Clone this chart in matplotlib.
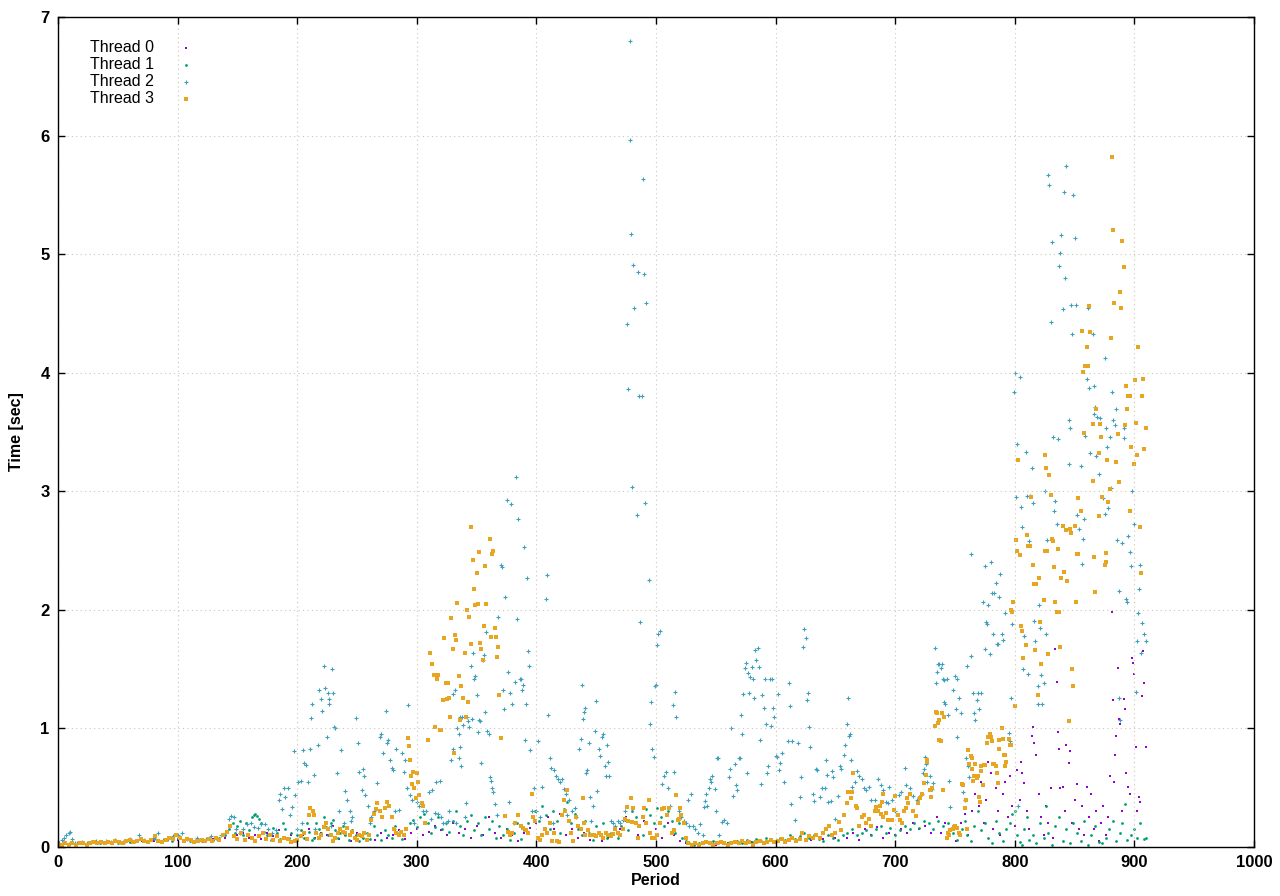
import matplotlib
matplotlib.use("Agg")
import matplotlib.pyplot as plt
import numpy as np

plt.rcParams['font.family'] = ['Liberation Sans', 'DejaVu Sans']

# (period, time in sec), one list per thread
thread0 = [
    (0, 0.02), (10, 0.02), (20, 0.03), (30, 0.03), (40, 0.03), (50, 0.04), (60, 0.04), (70, 0.05),
    (80, 0.05), (90, 0.05), (100, 0.06), (110, 0.05), (120, 0.06), (130, 0.07), (140, 0.08), (150, 0.1),
    (155, 0.12), (160, 0.08), (165, 0.1), (170, 0.07), (175, 0.12), (180, 0.09), (185, 0.14), (190, 0.08),
    (195, 0.1), (200, 0.06), (205, 0.1), (210, 0.15), (215, 0.08), (220, 0.12), (225, 0.1), (230, 0.18),
    (235, 0.07), (240, 0.1), (245, 0.05), (250, 0.12), (255, 0.08), (260, 0.1), (265, 0.06), (270, 0.12),
    (275, 0.08), (280, 0.1), (285, 0.14), (290, 0.07), (295, 0.12), (300, 0.15), (305, 0.1), (310, 0.13),
    (315, 0.18), (320, 0.14), (325, 0.1), (330, 0.2), (335, 0.12), (340, 0.15), (345, 0.08), (350, 0.18),
    (355, 0.1), (360, 0.25), (365, 0.12), (370, 0.08), (375, 0.15), (380, 0.1), (385, 0.05), (390, 0.12),
    (395, 0.16), (400, 0.2), (405, 0.1), (410, 0.25), (415, 0.15), (420, 0.28), (425, 0.1), (430, 0.15),
    (435, 0.08), (440, 0.12), (445, 0.06), (450, 0.1), (455, 0.05), (460, 0.08), (465, 0.12), (470, 0.15),
    (475, 0.25), (480, 0.2), (485, 0.1), (490, 0.22), (495, 0.12), (500, 0.15), (505, 0.08), (510, 0.2),
    (515, 0.1), (520, 0.05), (525, 0.03), (530, 0.02), (540, 0.03), (550, 0.02), (560, 0.03), (570, 0.03),
    (580, 0.04), (590, 0.04), (600, 0.05), (610, 0.05), (620, 0.06), (630, 0.06), (640, 0.07), (650, 0.08),
    (660, 0.08), (665, 0.12), (670, 0.06), (675, 0.15), (680, 0.1), (685, 0.17), (690, 0.08), (695, 0.12),
    (700, 0.1), (705, 0.15), (710, 0.12), (715, 0.2), (720, 0.15), (725, 0.18), (730, 0.12), (735, 0.25),
    (738, 0.12), (742, 0.2), (745, 0.1), (748, 0.15), (751, 0.05), (755, 0.2), (758, 0.28), (761, 0.1),
    (764, 0.3), (767, 0.45), (770, 0.35), (772, 0.55), (774, 0.2), (776, 0.4), (778, 0.72), (780, 0.62),
    (782, 0.15), (784, 0.5), (786, 0.3), (788, 0.1), (790, 0.45), (792, 0.55), (794, 0.25), (796, 0.6),
    (798, 0.35), (800, 0.18), (802, 0.65), (804, 0.4), (805, 0.72), (806, 0.62), (808, 0.54), (810, 0.3),
    (812, 0.15), (814, 0.94), (815, 1.01), (816, 0.88), (818, 0.78), (820, 0.45), (822, 0.25), (824, 0.1),
    (826, 0.35), (828, 0.2), (830, 0.5), (832, 0.08), (834, 1.67), (835, 1.39), (836, 0.97), (837, 0.83),
    (838, 0.5), (840, 0.51), (842, 0.3), (843, 0.86), (845, 0.71), (846, 0.81), (848, 0.2), (850, 0.4),
    (852, 0.53), (854, 0.15), (856, 0.35), (858, 0.1), (860, 0.51), (862, 0.25), (864, 0.45), (866, 0.15),
    (868, 0.3), (870, 0.05), (872, 0.2), (874, 0.35), (876, 0.1), (878, 0.25), (880, 0.6), (881, 1.98),
    (882, 1.24), (883, 0.55), (884, 0.78), (885, 0.94), (886, 1.51), (887, 1.08), (888, 1.04), (890, 0.3),
    (891, 1.25), (892, 1.16), (893, 0.62), (895, 0.51), (896, 0.45), (898, 1.59), (899, 1.55), (900, 1.46),
    (901, 0.84), (902, 0.3), (904, 0.42), (905, 0.38), (906, 1.27), (907, 1.65), (908, 1.38), (910, 0.84),
]

thread1 = [
    (0, 0.02), (5, 0.03), (10, 0.03), (15, 0.02), (20, 0.03), (25, 0.03), (30, 0.04), (35, 0.03),
    (40, 0.04), (45, 0.04), (50, 0.03), (55, 0.05), (60, 0.04), (65, 0.05), (70, 0.06), (75, 0.05),
    (80, 0.07), (85, 0.05), (90, 0.06), (95, 0.05), (100, 0.08), (105, 0.06), (110, 0.05), (115, 0.06),
    (120, 0.05), (125, 0.07), (130, 0.06), (135, 0.08), (140, 0.1), (143, 0.15), (146, 0.2), (148, 0.12),
    (150, 0.18), (152, 0.22), (155, 0.1), (157, 0.2), (160, 0.14), (162, 0.25), (164, 0.27), (165, 0.28),
    (166, 0.26), (168, 0.24), (170, 0.2), (172, 0.13), (175, 0.1), (178, 0.06), (180, 0.16), (183, 0.12),
    (186, 0.07), (188, 0.2), (190, 0.15), (193, 0.08), (195, 0.12), (198, 0.05), (200, 0.1), (203, 0.14),
    (206, 0.08), (208, 0.2), (210, 0.13), (212, 0.06), (214, 0.08), (216, 0.2), (218, 0.15), (220, 0.12),
    (222, 0.25), (224, 0.17), (226, 0.1), (228, 0.2), (230, 0.23), (232, 0.14), (234, 0.08), (236, 0.12),
    (238, 0.18), (240, 0.1), (243, 0.06), (246, 0.14), (249, 0.1), (252, 0.05), (255, 0.08), (258, 0.12),
    (261, 0.07), (264, 0.18), (267, 0.1), (270, 0.06), (273, 0.14), (276, 0.1), (279, 0.08), (282, 0.18),
    (285, 0.12), (288, 0.07), (291, 0.15), (294, 0.2), (297, 0.23), (300, 0.17), (303, 0.25), (306, 0.28),
    (309, 0.2), (312, 0.12), (315, 0.17), (318, 0.25), (321, 0.15), (324, 0.2), (327, 0.13), (330, 0.22),
    (333, 0.3), (336, 0.18), (339, 0.1), (342, 0.22), (345, 0.27), (348, 0.14), (351, 0.2), (354, 0.1),
    (357, 0.25), (360, 0.15), (363, 0.22), (366, 0.08), (369, 0.18), (372, 0.1), (375, 0.15), (378, 0.06),
    (381, 0.12), (384, 0.2), (387, 0.07), (390, 0.14), (393, 0.2), (396, 0.25), (399, 0.3), (402, 0.22),
    (405, 0.35), (408, 0.27), (411, 0.15), (414, 0.3), (417, 0.22), (420, 0.12), (423, 0.32), (426, 0.38),
    (429, 0.2), (432, 0.28), (435, 0.15), (438, 0.1), (441, 0.22), (444, 0.12), (447, 0.06), (450, 0.18),
    (453, 0.1), (456, 0.2), (459, 0.08), (462, 0.12), (465, 0.15), (468, 0.08), (471, 0.18), (474, 0.23),
    (477, 0.14), (480, 0.3), (483, 0.25), (486, 0.18), (489, 0.1), (492, 0.32), (495, 0.27), (498, 0.2),
    (501, 0.33), (504, 0.25), (507, 0.18), (510, 0.3), (513, 0.22), (516, 0.12), (519, 0.2), (522, 0.08),
    (525, 0.05), (528, 0.03), (532, 0.02), (536, 0.03), (540, 0.04), (544, 0.03), (548, 0.05), (552, 0.03),
    (556, 0.04), (560, 0.03), (564, 0.04), (568, 0.05), (572, 0.03), (576, 0.06), (580, 0.04), (584, 0.07),
    (588, 0.05), (592, 0.08), (596, 0.06), (600, 0.05), (604, 0.08), (608, 0.06), (612, 0.1), (616, 0.07),
    (620, 0.09), (624, 0.12), (628, 0.08), (632, 0.1), (636, 0.07), (640, 0.05), (644, 0.1), (648, 0.08),
    (652, 0.06), (656, 0.1), (660, 0.12), (664, 0.15), (668, 0.1), (672, 0.12), (676, 0.14), (680, 0.1),
    (684, 0.15), (688, 0.18), (692, 0.12), (696, 0.16), (700, 0.1), (704, 0.14), (708, 0.18), (712, 0.15),
    (716, 0.2), (720, 0.16), (724, 0.22), (728, 0.2), (732, 0.15), (736, 0.22), (740, 0.18), (744, 0.2),
    (748, 0.12), (752, 0.06), (756, 0.15), (758, 0.22), (760, 0.1), (763, 0.05), (766, 0.18), (769, 0.3),
    (772, 0.14), (775, 0.2), (778, 0.08), (781, 0.03), (784, 0.22), (787, 0.12), (790, 0.05), (793, 0.15),
    (796, 0.2), (798, 0.28), (800, 0.3), (802, 0.1), (804, 0.04), (806, 0.02), (808, 0.15), (810, 0.25),
    (812, 0.06), (815, 0.1), (818, 0.03), (821, 0.2), (824, 0.08), (826, 0.35), (828, 0.12), (831, 0.02),
    (834, 0.18), (837, 0.25), (840, 0.05), (843, 0.15), (846, 0.03), (849, 0.2), (852, 0.12), (855, 0.05),
    (858, 0.22), (861, 0.02), (864, 0.1), (867, 0.18), (870, 0.04), (873, 0.03), (876, 0.08), (879, 0.15),
    (882, 0.22), (885, 0.05), (888, 0.12), (890, 0.2), (892, 0.36), (894, 0.06), (897, 0.1), (900, 0.15),
    (902, 0.08), (905, 0.2), (908, 0.07), (910, 0.08),
]

thread2 = [
    (1, 0.03), (3, 0.06), (5, 0.08), (7, 0.1), (9, 0.12), (10, 0.13), (12, 0.07), (14, 0.03),
    (16, 0.03), (20, 0.04), (24, 0.03), (28, 0.04), (32, 0.05), (36, 0.04), (40, 0.05), (44, 0.04),
    (48, 0.06), (52, 0.04), (56, 0.05), (60, 0.07), (64, 0.05), (68, 0.1), (72, 0.06), (76, 0.05),
    (80, 0.08), (84, 0.12), (88, 0.06), (92, 0.07), (96, 0.09), (100, 0.1), (104, 0.12), (108, 0.07),
    (112, 0.05), (116, 0.08), (120, 0.06), (124, 0.07), (128, 0.09), (132, 0.08), (136, 0.1), (140, 0.12),
    (143, 0.24), (145, 0.26), (147, 0.25), (149, 0.15), (152, 0.12), (155, 0.15), (158, 0.19), (161, 0.2),
    (164, 0.17), (167, 0.16), (170, 0.19), (173, 0.19), (176, 0.15), (179, 0.12), (182, 0.14), (185, 0.4),
    (186, 0.45), (187, 0.32), (189, 0.5), (190, 0.42), (192, 0.5), (194, 0.27), (196, 0.34), (197, 0.81),
    (198, 0.44), (200, 0.15), (201, 0.55), (203, 0.56), (204, 0.2), (205, 0.82), (206, 0.71), (207, 0.69),
    (209, 0.55), (211, 0.83), (211.5, 1.09), (212, 1.21), (214, 0.61), (215, 0.15), (217, 0.86), (218, 1.32),
    (220, 1.25), (221, 1.15), (222, 1.53), (223, 1.34), (225, 0.93), (226, 1.3), (226.5, 1.25), (227, 1.21),
    (228, 0.18), (229, 1.5), (230, 1.3), (231, 1.01), (232, 1.0), (233, 0.62), (235, 0.3), (237, 0.82),
    (239, 0.2), (240, 0.47), (242, 0.4), (244, 0.3), (245, 0.22), (246, 0.25), (249, 1.09), (251, 0.88),
    (252, 0.63), (254, 0.48), (255, 0.66), (256, 0.6), (257, 0.44), (259, 0.35), (261, 0.2), (262, 0.25),
    (264, 0.3), (267, 0.54), (269, 0.93), (270, 0.95), (272, 0.79), (274, 1.15), (275, 0.88), (276, 0.9),
    (278, 0.73), (279, 0.67), (280, 0.65), (281, 0.15), (282, 0.3), (283, 0.83), (285, 0.31), (288, 0.79),
    (289, 0.63), (290, 0.73), (292, 0.5), (293, 1.2), (294, 0.44), (296, 0.4), (298, 0.2), (300, 0.38),
    (302, 0.35), (305, 0.3), (308, 0.3), (310, 0.46), (312, 0.24), (313, 0.48), (315, 0.29), (316, 0.55),
    (318, 0.28), (319, 0.56), (320, 0.25), (322, 0.2), (324, 0.2), (326, 0.22), (327, 0.3), (329, 0.73),
    (330, 1.29), (330.5, 0.83), (332, 1.32), (333, 0.2), (334, 1.0), (335, 0.75), (335.5, 0.95), (336, 0.84),
    (336.5, 1.1), (337, 0.68), (338, 1.1), (339, 1.03), (340, 0.25), (341, 0.37), (342, 1.1), (343, 1.06),
    (344, 1.01), (345, 1.53), (346, 1.08), (347, 1.64), (348, 1.42), (349, 1.44), (350, 1.28), (351, 0.97),
    (352, 1.07), (353, 1.06), (354, 0.71), (355, 1.58), (356, 1.62), (357, 1.14), (358, 1.81), (359, 0.98),
    (360, 0.95), (361, 0.59), (362, 0.56), (363, 0.5), (364, 0.46), (365, 0.36), (367, 0.27), (368, 1.94),
    (370, 2.38), (371, 2.36), (372, 1.32), (373, 1.16), (374, 2.11), (375, 2.93), (376, 1.48), (377, 0.38),
    (378, 1.3), (379, 2.89), (380, 1.21), (381, 0.2), (382, 1.39), (383, 3.12), (384, 1.92), (385, 2.77),
    (386, 1.42), (387, 1.42), (388, 1.32), (389, 1.37), (390, 2.53), (390.5, 0.9), (391, 1.21), (392, 2.27),
    (393, 1.65), (394, 1.53), (395, 0.82), (396, 0.3), (398, 0.5), (400, 0.3), (401, 0.89), (403, 0.25),
    (405, 0.51), (408, 2.09), (409, 2.29), (410, 1.11), (411, 0.75), (412, 0.67), (414, 0.2), (415, 0.65),
    (416, 0.6), (418, 0.57), (420, 0.55), (421, 0.57), (423, 0.49), (425, 0.45), (426, 0.27), (427, 0.4),
    (430, 0.3), (432, 0.33), (433, 0.25), (436, 0.83), (437, 0.91), (438, 1.37), (439, 1.08), (440, 1.14),
    (441, 1.17), (441.5, 0.62), (442, 0.65), (444, 0.88), (445, 0.42), (446, 0.22), (447, 0.35), (449, 0.98),
    (450, 1.23), (451, 0.47), (452, 0.83), (453, 0.77), (455, 0.93), (456, 0.95), (457, 0.68), (458, 0.6),
    (459, 0.86), (460, 0.72), (461, 0.6), (462, 0.22), (464, 0.2), (466, 0.18), (468, 0.22), (470, 0.2),
    (472, 0.23), (474, 0.3), (476, 4.41), (477, 3.86), (478, 6.8), (478.5, 5.96), (479, 5.17), (480, 3.04),
    (481, 4.91), (482, 4.55), (484, 2.8), (485, 4.85), (486, 3.8), (487, 1.9), (488, 3.8), (489, 5.63),
    (490, 4.83), (491, 2.9), (492, 4.59), (494, 2.25), (495, 1.04), (496, 1.22), (497, 0.83), (498, 0.76),
    (499, 1.36), (500, 1.37), (501, 1.7), (502, 1.8), (503, 1.82), (505, 0.53), (507, 0.6), (508, 0.63),
    (510, 0.5), (512, 0.35), (514, 1.2), (515, 0.63), (516, 1.31), (517, 1.1), (519, 0.3), (521, 0.25),
    (523, 0.22), (525, 0.2), (527, 0.4), (528, 0.18), (529, 0.45), (531, 0.18), (533, 0.15), (535, 0.12),
    (537, 0.19), (539, 0.1), (540, 0.34), (541, 0.39), (542, 0.45), (543, 0.35), (544, 0.5), (545, 0.57),
    (546, 0.55), (547, 0.6), (549, 0.49), (550, 0.3), (551, 0.75), (552, 0.75), (553, 0.1), (555, 0.21),
    (557, 0.23), (559, 0.2), (561, 0.59), (562, 0.66), (563, 1.0), (564, 0.43), (566, 0.7), (567, 0.52),
    (568, 0.48), (569, 0.75), (570, 0.75), (571, 1.11), (572, 0.95), (573, 1.29), (574, 1.51), (575, 1.55),
    (576, 0.62), (577, 1.47), (578, 1.3), (579, 1.43), (580, 1.52), (581, 1.42), (582, 1.26), (583, 1.66),
    (584, 1.58), (585, 1.68), (586, 1.52), (587, 0.9), (588, 0.53), (589, 1.28), (590, 1.17), (591, 1.42),
    (592, 1.04), (593, 0.62), (594, 0.68), (595, 1.42), (596, 1.02), (597, 1.42), (598, 1.17), (599, 1.1),
    (600, 0.77), (601, 0.76), (602, 1.29), (603, 0.65), (604, 0.71), (605, 0.79), (607, 0.55), (610, 0.89),
    (611, 1.38), (612, 1.19), (613, 0.36), (614, 0.89), (616, 0.23), (619, 0.88), (620, 0.42), (621, 0.59),
    (623, 1.69), (624, 1.84), (625, 1.76), (626, 1.24), (627, 1.3), (628, 1.01), (629, 0.84), (631, 0.45),
    (632, 0.39), (634, 0.66), (635, 0.65), (637, 0.42), (639, 0.5), (641, 0.5), (642, 0.73), (643, 0.61),
    (644, 0.38), (646, 0.39), (647, 0.64), (648, 0.59), (650, 0.24), (652, 0.43), (654, 0.68), (655, 0.66),
    (657, 0.78), (658, 0.86), (660, 1.04), (660.5, 1.26), (661, 0.94), (662, 0.95), (663, 0.73), (664, 0.51),
    (666, 0.55), (668, 0.64), (670, 0.6), (672, 0.57), (674, 0.5), (676, 0.48), (678, 0.51), (680, 0.4),
    (683, 0.4), (686, 0.57), (688, 0.52), (690, 0.48), (692, 0.38), (694, 0.37), (695, 0.51), (697, 0.4),
    (700, 0.3), (703, 0.44), (705, 0.46), (708, 0.67), (709, 0.52), (712, 0.5), (715, 0.43), (718, 0.4),
    (720, 0.42), (722, 0.45), (723, 0.62), (724, 0.66), (725, 0.76), (726, 0.7), (727, 0.55), (729, 0.6),
    (731, 0.49), (732, 0.54), (733, 1.68), (734, 1.38), (735, 1.48), (736, 1.54), (737, 1.54), (738, 1.51),
    (739, 1.54), (740, 1.42), (740.5, 1.22), (741, 1.41), (742, 1.21), (743, 1.42), (744, 1.11), (745, 0.56),
    (746, 0.34), (748, 1.32), (750, 1.44), (751, 1.16), (751.5, 1.42), (752, 0.93), (753, 1.26), (755, 1.13),
    (757, 0.46), (758, 0.4), (759, 0.75), (760, 1.53), (761, 0.68), (762, 0.59), (763, 2.47), (763.5, 1.61),
    (765, 1.3), (766, 1.13), (767, 1.07), (768, 1.24), (769, 1.3), (770, 1.16), (772, 1.3), (773, 2.07),
    (775, 2.37), (775.5, 1.67), (776, 1.9), (777, 1.88), (778, 2.04), (779, 1.63), (780, 2.4), (781, 2.14),
    (782, 1.8), (783, 2.14), (784, 2.23), (785, 1.71), (786, 1.71), (787, 2.11), (788, 2.3), (789, 1.8),
    (790, 1.75), (792, 1.97), (795, 0.96), (796, 0.89), (797, 1.26), (798, 1.88), (799, 3.84), (800, 4.0),
    (801, 2.95), (802, 3.4), (803, 0.35), (804, 3.96), (805, 2.87), (806, 2.7), (807, 1.5), (808, 1.78),
    (809, 3.33), (810, 2.96), (811, 1.46), (812, 2.58), (813, 2.96), (814, 3.2), (815, 2.9), (816, 1.91),
    (817, 1.74), (819, 1.36), (819.5, 1.21), (820, 2.04), (821, 1.85), (822, 1.45), (823, 1.21), (824, 1.38),
    (825, 3.0), (826, 1.8), (827, 2.59), (828, 5.67), (829, 5.58), (830, 4.43), (831, 5.1), (832, 3.46),
    (833, 2.83), (834, 2.92), (835, 2.72), (836, 3.44), (837, 4.9), (838, 5.01), (839, 5.16), (840, 4.54),
    (841, 5.52), (842, 4.8), (843, 5.74), (845, 3.6), (845.5, 3.23), (846, 3.53), (847, 4.57), (848, 4.33),
    (849, 5.5), (850, 5.14), (851, 4.57), (852, 2.8), (854, 2.68), (855, 3.21), (856, 2.39), (857, 2.6),
    (858, 2.77), (859, 3.47), (860, 3.95), (861, 4.55), (862, 3.87), (863, 3.32), (865, 4.33), (866, 3.89),
    (866.5, 3.65), (867, 3.71), (868, 3.3), (869, 3.63), (870, 3.15), (871, 3.62), (874, 2.94), (875, 4.12),
    (875.5, 2.81), (876, 3.53), (877, 3.37), (878, 2.86), (880, 3.46), (880.5, 3.03), (881, 3.84), (882, 3.6),
    (884, 3.56), (885, 3.69), (885.5, 2.59), (887, 2.16), (887.5, 1.26), (888, 1.07), (890, 2.56), (891, 3.45),
    (891.5, 3.53), (893, 2.09), (894, 2.07), (895, 2.62), (896, 2.49), (897, 2.37), (898, 3.0), (900, 2.72),
    (901, 1.31), (902, 1.74), (903, 1.97), (904, 2.18), (905, 2.38), (905.5, 1.64), (906, 1.89), (908, 1.8),
    (910, 1.74),
]

thread3 = [
    (0, 0.02), (3, 0.02), (6, 0.03), (9, 0.02), (12, 0.03), (15, 0.02), (18, 0.03), (21, 0.03),
    (24, 0.02), (27, 0.03), (30, 0.04), (33, 0.03), (36, 0.04), (39, 0.03), (42, 0.04), (45, 0.03),
    (48, 0.05), (51, 0.04), (54, 0.03), (57, 0.05), (60, 0.06), (63, 0.04), (66, 0.05), (69, 0.07),
    (72, 0.05), (75, 0.04), (78, 0.06), (81, 0.09), (84, 0.05), (87, 0.04), (90, 0.06), (93, 0.08),
    (96, 0.07), (99, 0.1), (102, 0.08), (105, 0.05), (108, 0.07), (111, 0.06), (114, 0.04), (117, 0.05),
    (120, 0.06), (123, 0.05), (126, 0.07), (129, 0.05), (132, 0.08), (135, 0.06), (138, 0.1), (141, 0.13),
    (144, 0.18), (147, 0.09), (150, 0.07), (153, 0.12), (156, 0.06), (159, 0.1), (162, 0.08), (165, 0.05),
    (168, 0.09), (171, 0.12), (174, 0.07), (177, 0.1), (180, 0.06), (183, 0.09), (186, 0.05), (189, 0.08),
    (192, 0.07), (195, 0.04), (198, 0.05), (200, 0.06), (203, 0.09), (206, 0.12), (208, 0.07), (210, 0.27),
    (211, 0.33), (213, 0.3), (214, 0.27), (216, 0.12), (218, 0.08), (220, 0.1), (222, 0.17), (224, 0.2),
    (226, 0.15), (228, 0.1), (230, 0.05), (232, 0.08), (234, 0.12), (236, 0.15), (238, 0.13), (240, 0.12),
    (242, 0.16), (244, 0.1), (246, 0.13), (248, 0.08), (250, 0.06), (252, 0.1), (254, 0.09), (256, 0.12),
    (258, 0.06), (260, 0.1), (262, 0.23), (264, 0.28), (266, 0.32), (267, 0.37), (269, 0.3), (271, 0.25),
    (273, 0.33), (275, 0.38), (277, 0.35), (279, 0.25), (281, 0.15), (283, 0.12), (285, 0.1), (287, 0.13),
    (289, 0.1), (291, 0.15), (293, 0.92), (293.5, 0.85), (294, 0.73), (295, 0.6), (296, 0.53), (297, 0.63),
    (298, 0.5), (299, 0.41), (300, 0.62), (301, 0.55), (302, 0.44), (304, 0.37), (305, 0.35), (307, 0.2),
    (309, 0.9), (311, 1.64), (313, 1.54), (314, 1.45), (315, 1.01), (317, 1.42), (318, 1.45), (319, 0.99),
    (320, 0.99), (322, 1.24), (323, 1.76), (324, 1.38), (325, 1.25), (326, 1.38), (327, 1.26), (328, 1.1),
    (329, 1.93), (330, 1.67), (331, 0.79), (332, 1.79), (333, 1.75), (334, 2.06), (335, 1.44), (336, 1.07),
    (337, 1.36), (339, 1.26), (340, 1.64), (341, 1.1), (342, 2.0), (343, 1.22), (344, 1.94), (345, 2.7),
    (345.5, 1.71), (347, 2.42), (348, 2.18), (349, 2.04), (350, 2.31), (351, 2.05), (352, 2.49), (353, 1.72),
    (354, 1.67), (355, 1.58), (356, 1.86), (357, 2.37), (358, 2.05), (361, 2.6), (362, 1.77), (363, 2.47),
    (364, 2.5), (365, 1.85), (366, 1.77), (367, 1.6), (368, 1.69), (369, 1.28), (370, 0.92), (374, 0.26),
    (376, 0.13), (378, 0.1), (380, 0.12), (382, 0.2), (385, 0.27), (387, 0.18), (389, 0.16), (391, 0.14),
    (393, 0.12), (396, 0.45), (397, 0.25), (399, 0.22), (401, 0.08), (403, 0.06), (405, 0.1), (407, 0.15),
    (409, 0.12), (411, 0.2), (413, 0.05), (415, 0.12), (417, 0.05), (419, 0.04), (421, 0.27), (423, 0.4),
    (424, 0.3), (426, 0.48), (427, 0.22), (429, 0.12), (431, 0.05), (433, 0.25), (435, 0.18), (437, 0.15),
    (439, 0.41), (440, 0.2), (441, 0.1), (443, 0.14), (445, 0.1), (448, 0.1), (450, 0.09), (452, 0.12),
    (454, 0.1), (456, 0.08), (458, 0.12), (460, 0.1), (462, 0.09), (464, 0.11), (466, 0.15), (468, 0.12),
    (470, 0.1), (472, 0.15), (474, 0.24), (476, 0.34), (477, 0.22), (479, 0.41), (480, 0.21), (481, 0.33),
    (483, 0.2), (485, 0.08), (486, 0.18), (489, 0.25), (490, 0.33), (492, 0.2), (494, 0.4), (495, 0.12),
    (497, 0.08), (499, 0.08), (501, 0.1), (503, 0.2), (505, 0.32), (507, 0.33), (509, 0.27), (511, 0.33),
    (513, 0.12), (515, 0.14), (517, 0.44), (518, 0.23), (519, 0.24), (520, 0.33), (521, 0.27), (523, 0.2),
    (525, 0.08), (527, 0.03), (530, 0.02), (533, 0.03), (536, 0.02), (539, 0.03), (542, 0.04), (545, 0.03),
    (548, 0.02), (551, 0.03), (554, 0.04), (557, 0.03), (560, 0.02), (563, 0.03), (566, 0.04), (569, 0.03),
    (572, 0.05), (575, 0.03), (578, 0.04), (581, 0.02), (584, 0.04), (587, 0.05), (590, 0.03), (593, 0.04),
    (596, 0.06), (599, 0.04), (602, 0.05), (605, 0.07), (608, 0.04), (611, 0.06), (614, 0.08), (617, 0.05),
    (620, 0.07), (622, 0.12), (625, 0.06), (628, 0.09), (631, 0.08), (634, 0.1), (637, 0.08), (640, 0.12),
    (642, 0.15), (645, 0.18), (647, 0.1), (650, 0.12), (653, 0.21), (655, 0.14), (657, 0.27), (660, 0.37),
    (660.5, 0.46), (662, 0.46), (663, 0.41), (664, 0.46), (665, 0.62), (667, 0.35), (668, 0.33), (670, 0.18),
    (672, 0.25), (674, 0.27), (676, 0.2), (678, 0.24), (680, 0.18), (683, 0.3), (684, 0.34), (686, 0.3),
    (687, 0.35), (688, 0.28), (689, 0.38), (689.5, 0.25), (690, 0.45), (692, 0.29), (694, 0.23), (697, 0.23),
    (699, 0.31), (700, 0.43), (702, 0.27), (704, 0.23), (706, 0.2), (707, 0.3), (709, 0.33), (710, 0.41),
    (711, 0.37), (712, 0.45), (715, 0.3), (717, 0.26), (719, 0.37), (721, 0.41), (722, 0.45), (724, 0.54),
    (726, 0.61), (726.5, 0.73), (727, 0.72), (729, 0.48), (730, 0.42), (731, 0.5), (733, 1.02), (734, 1.14),
    (735, 1.13), (736, 1.05), (736.5, 1.07), (737, 0.9), (738, 0.89), (739, 1.13), (740, 0.48), (741, 1.1),
    (743, 0.08), (744, 0.12), (745, 0.1), (746, 0.14), (748, 0.15), (749, 0.17), (750, 0.18), (752, 0.16),
    (753, 0.12), (754, 0.1), (756, 0.53), (757, 0.52), (758, 0.33), (759, 0.4), (760, 0.15), (761, 0.82),
    (762, 0.7), (763, 0.77), (764, 0.75), (764.5, 0.66), (765, 0.56), (766, 0.6), (767, 0.7), (768, 0.58),
    (769, 0.6), (770, 0.42), (771, 0.38), (771.5, 0.68), (772, 0.64), (773, 0.52), (774, 0.69), (775, 0.69),
    (777, 0.88), (778, 0.93), (779, 0.95), (780, 0.93), (781, 0.89), (782, 0.7), (783, 0.7), (784, 0.68),
    (785, 0.62), (786, 0.54), (786.5, 0.9), (787, 0.83), (789, 1.0), (790, 0.91), (791, 0.78), (791.5, 0.78),
    (792, 0.68), (793, 0.72), (795, 0.91), (796, 0.86), (796.5, 0.86), (797, 2.0), (798, 1.98), (798.5, 2.07),
    (800, 1.19), (801, 2.59), (801.5, 2.5), (803, 3.26), (804, 2.46), (805, 1.86), (806, 1.82), (807, 1.59),
    (809, 1.7), (810, 2.63), (811, 2.54), (812, 2.54), (813, 2.54), (813.5, 2.95), (815, 2.38), (816, 2.22),
    (817, 1.66), (818, 2.22), (819, 1.28), (820, 2.27), (821, 1.9), (822, 1.54), (824, 2.08), (825, 2.5),
    (825.5, 3.31), (826, 3.2), (827, 2.5), (828, 1.63), (829, 3.14), (830, 2.97), (831, 2.6), (832, 2.58),
    (833, 2.36), (834, 2.07), (835, 1.98), (836, 2.51), (837, 1.98), (838, 1.69), (839, 2.27), (840, 2.71),
    (841, 2.32), (843, 2.67), (844, 2.24), (845, 1.06), (846, 2.68), (847, 2.65), (848, 1.5), (849, 1.36),
    (850, 2.71), (851, 2.07), (852, 2.47), (852.5, 2.94), (853, 2.47), (855, 2.83), (856, 4.35), (857, 4.01),
    (858, 3.49), (859, 4.06), (860, 4.22), (861, 4.06), (862, 4.56), (863, 4.34), (865, 3.57), (865.5, 3.09),
    (866, 2.45), (867, 2.15), (868, 3.69), (870, 3.32), (870.5, 2.79), (871, 3.57), (872, 3.46), (873, 2.95),
    (875, 2.38), (876, 2.48), (876.5, 2.4), (877, 3.26), (878, 2.91), (880, 3.02), (880.5, 4.29), (881, 5.82),
    (882, 5.2), (883, 4.59), (885, 3.25), (886, 3.48), (887, 3.08), (888, 4.68), (889, 4.55), (890, 5.11),
    (891, 4.89), (892, 3.56), (893, 3.89), (894, 3.69), (895, 3.8), (896, 2.83), (896.5, 3.8), (897, 3.37),
    (900, 3.23), (900.5, 3.94), (901, 3.58), (902, 3.31), (903, 4.22), (905, 2.7), (905.5, 2.31), (906, 3.8),
    (907, 3.95), (908, 3.36), (910, 3.53),
]

labels = ["Thread 0", "Thread 1", "Thread 2", "Thread 3"]
colors = ["#9400d3", "#009e73", "#3f9fba", "#e8a520"]
markers = ["s", "o", "+", "s"]
sizes = [2.0, 4.0, 9.0, 7.0]

fig = plt.figure(figsize=(12.8, 8.96), dpi=100)
ax = fig.add_axes([58 / 1280, 49 / 896, 1196 / 1280, 830 / 896])

for pts, lab, col, mk, sz in zip([thread0, thread1, thread2, thread3], labels, colors, markers, sizes):
    x, y = np.array(pts).T
    if mk == "+":
        ax.scatter(x, y, s=sz, c=col, marker=mk, linewidths=0.8, label=lab)
    else:
        ax.scatter(x, y, s=sz, c=col, marker=mk, linewidths=0, label=lab)

ax.set_xlim(0, 1000)
ax.set_ylim(0, 7)
ax.set_xticks(np.arange(0, 1001, 100))
ax.set_yticks(np.arange(0, 8, 1))
ax.grid(True, linestyle=(0, (1, 3)), color="#cfc5b2", linewidth=0.8)
ax.tick_params(direction="in", top=True, right=True, length=5, width=1, pad=6, labelsize=12)
for lbl in ax.get_xticklabels() + ax.get_yticklabels():
    lbl.set_fontweight("bold")
for sp in ax.spines.values():
    sp.set_linewidth(1)

ax.set_xlabel("Period", fontweight="bold", fontsize=11.5, labelpad=2)
ax.set_ylabel("Time [sec]", fontweight="bold", fontsize=11.5, labelpad=12)

leg = ax.legend(loc="upper left", bbox_to_anchor=(0.027, 0.972), frameon=False,
                markerfirst=False, fontsize=11.5, handlelength=1.0, handletextpad=1.5,
                labelspacing=0.12, borderpad=0, borderaxespad=0, scatterpoints=1)

plt.savefig("out.png", dpi=100)
